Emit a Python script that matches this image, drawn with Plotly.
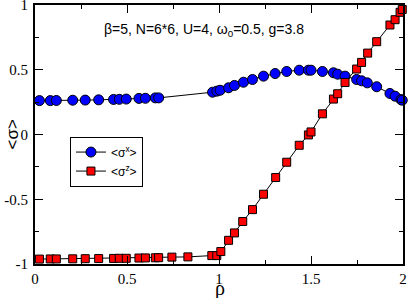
import plotly.graph_objects as go

rho_x = [0.024, 0.083, 0.116, 0.205, 0.273, 0.346, 0.427, 0.458, 0.496, 0.565, 0.600, 0.654, 0.672,
         0.965, 0.988, 1.006, 1.052, 1.084, 1.133, 1.182, 1.242, 1.305, 1.368, 1.436, 1.486, 1.500,
         1.562, 1.622, 1.645, 1.685, 1.748, 1.775, 1.806, 1.857, 1.929, 1.957, 1.989, 1.996]
sigma_x = [0.262, 0.262, 0.263, 0.265, 0.266, 0.268, 0.271, 0.272, 0.274, 0.279, 0.280, 0.283, 0.283,
           0.327, 0.335, 0.342, 0.361, 0.379, 0.404, 0.425, 0.451, 0.471, 0.487, 0.497, 0.497, 0.497,
           0.487, 0.477, 0.466, 0.451, 0.425, 0.415, 0.399, 0.369, 0.317, 0.296, 0.270, 0.265]

rho_z = [0.024, 0.083, 0.116, 0.205, 0.273, 0.346, 0.427, 0.458, 0.496, 0.565, 0.600, 0.654, 0.672, 0.744, 0.831,
         0.961, 0.988, 1.010, 1.052, 1.084, 1.129, 1.182, 1.242, 1.308, 1.368,
         1.436, 1.486, 1.500, 1.562, 1.622, 1.645, 1.685, 1.748, 1.775, 1.808, 1.857, 1.929, 1.957, 1.984, 1.996]
sigma_z = [-0.962, -0.961, -0.961, -0.960, -0.959, -0.958, -0.957, -0.956, -0.956, -0.954, -0.953, -0.952, -0.951, -0.947, -0.945,
           -0.935, -0.935, -0.904, -0.817, -0.760, -0.672, -0.580, -0.461, -0.332, -0.214,
           -0.083, -0.003, 0.020, 0.160, 0.274, 0.315, 0.402, 0.506, 0.557, 0.629, 0.717, 0.846, 0.887, 0.944, 0.966]

x_ticks = [0, 0.5, 1, 1.5, 2]
x_tick_labels = ["0", "0.5", "1", "1.5", "2"]
y_ticks = [-1, -0.5, 0, 0.5, 1]
y_tick_labels = ["-1", "-0.5", "0", "0.5", "1"]

serif = "Liberation Serif, Times New Roman, serif"
sans = "Liberation Sans, Arial, sans-serif"

fig = go.Figure()
fig.add_trace(go.Scatter(
    x=rho_x, y=sigma_x, mode="lines+markers", name="<σ<sup>x</sup>>",
    line=dict(color="black", width=1),
    marker=dict(symbol="circle", size=10, color="#0000ff", line=dict(color="black", width=1)),
    cliponaxis=False,
))
fig.add_trace(go.Scatter(
    x=rho_z, y=sigma_z, mode="lines+markers", name="<σ<sup>z</sup>>",
    line=dict(color="black", width=1),
    marker=dict(symbol="square", size=8, color="#ff0000", line=dict(color="black", width=1)),
    cliponaxis=False,
))

axis_common = dict(
    showline=True, linecolor="black", linewidth=2, mirror="ticks",
    ticks="inside", ticklen=8, tickwidth=1, tickcolor="black",
    showgrid=False, zeroline=False, automargin=False,
    ticklabeloverflow="allow",
    tickfont=dict(family=serif, size=15, color="black"),
    minor=dict(ticks="inside", ticklen=4, tickwidth=1, tickcolor="black", dtick=0.25),
)

fig.update_xaxes(range=[0, 2], tickvals=x_ticks, ticktext=x_tick_labels, ticklabelstandoff=0, **axis_common)
fig.update_yaxes(range=[-1, 1.0005], tickvals=y_ticks, ticktext=y_tick_labels, ticklabelstandoff=2, **axis_common)

fig.add_annotation(
    text="ρ", xref="paper", yref="paper", x=0.503, y=-0.095, xanchor="center", yanchor="middle",
    showarrow=False, font=dict(family=serif, size=20, color="black"),
)
fig.add_annotation(
    text="<σ>", xref="paper", yref="paper", x=-0.06, y=0.5, xanchor="center", yanchor="middle",
    textangle=-90, showarrow=False, font=dict(family=sans, size=17, color="black"),
)
fig.add_annotation(
    text="β=5, N=6*6, U=4, ω<sub>0</sub>=0.5, g=3.8",
    xref="paper", yref="paper", x=0.459, y=0.903, xanchor="center", yanchor="middle",
    showarrow=False, font=dict(family=sans, size=14, color="black"),
)

fig.update_layout(
    width=409, height=298,
    margin=dict(l=35, r=6, t=5, b=34),
    plot_bgcolor="white", paper_bgcolor="white",
    showlegend=True,
    legend=dict(x=0.095, y=0.492, xanchor="left", yanchor="top",
                bordercolor="black", borderwidth=1, bgcolor="white",
                font=dict(family=sans, size=12, color="black"),
                tracegroupgap=0, itemwidth=30),
)

fig.write_html("out.html", config={"displayModeBar": False},
               post_script="document.body.style.margin='0';document.body.style.padding='0';")
